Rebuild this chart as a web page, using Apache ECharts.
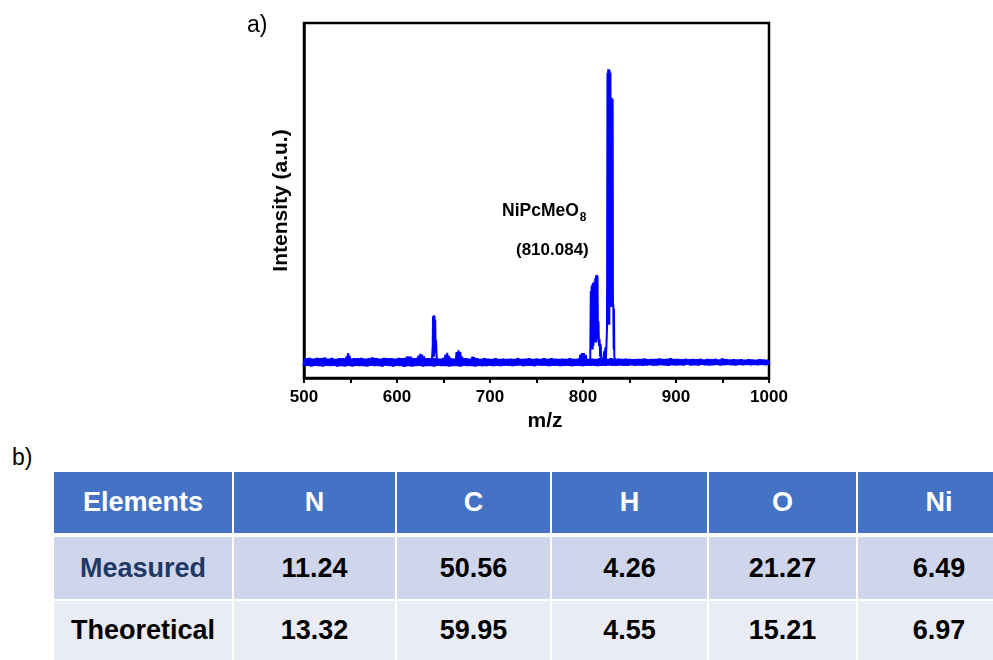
<!DOCTYPE html>
<html>
<head>
<meta charset="utf-8">
<script src="https://cdn.jsdelivr.net/npm/echarts@6/dist/echarts.min.js"></script>
<style>
body{margin:0;background:#fff;font-family:"Liberation Sans",Arial,sans-serif;}
#wrap{position:relative;width:993px;height:660px;overflow:hidden;}
#chart{position:absolute;left:0;top:0;width:993px;height:440px;}
.cell{position:absolute;display:flex;align-items:center;justify-content:center;font-weight:bold;font-size:27px;}
.lbl{position:absolute;font-size:23px;}
</style>
</head>
<body>
<div id="wrap">
  <div id="chart"></div>
  <div class="lbl" style="left:12px;top:444px;">b)</div>
  <div id="table"></div>
</div>
<script>
/*
* spectrum data: baseline noise every 2 m/z from 500, peaks as [m/z, intensity]
*/
var noiseStart = 500;
var noiseStep = 2;
var noise = [
  3.4,5.5,3.5,5.6,3.3,5.4,3.5,5.6,3.4,5.5,
  3.3,5.7,3.5,5.4,3.4,5.6,3.5,5.3,3.3,5.5,
  3.4,5.5,3.3,5.6,3.5,5.4,3.3,5.5,3.5,5.5,
  3.4,5.6,3.4,5.4,3.3,5.5,3.5,5.7,3.4,5.5,
  3.4,5.4,3.3,5.6,3.5,5.5,3.4,5.5,3.3,5.4,
  3.5,5.6,3.4,5.5,3.2,5.7,3.4,5.5,3.3,5.5,
  3.4,5.6,3.5,5.4,3.3,5.5,3.4,5.5,3.4,5.6,
  3.3,5.5,3.5,5.4,3.4,5.6,3.4,5.5,3.3,5.5,
  3.4,5.4,3.4,5.6,3.3,5.5,3.5,5.5,3.4,5.4,
  3.4,5.5,3.3,5.5,3.5,5.3,3.4,5.5,3.4,5.4,
  3.5,5.3,3.4,5.5,3.5,5.3,3.4,5.4,3.5,5.3,
  3.5,5.4,3.4,5.3,3.5,5.5,3.6,5.3,3.4,5.4,
  3.5,5.5,3.5,5.3,3.4,5.4,3.6,5.3,3.5,5.5,
  3.5,5.3,3.4,5.5,3.5,5.4,3.5,5.3,3.4,5.4,
  3.5,5.3,3.5,5.5,3.4,5.3,3.5,5.4,3.5,5.3,
  3.4,5.4,3.5,5.3,3.5,5.4,3.5,5.3,3.4,5.5,
  3.5,5.4,3.5,5.3,3.6,5.5,3.5,5.3,3.5,5.4,
  3.6,5.3,3.5,5.4,3.5,5.3,3.7,5.2,3.5,5.3,
  3.6,5.3,3.5,5.4,3.6,5.2,3.7,5.3,3.5,5.3,
  3.6,5.4,3.7,5.3,3.6,5.3,3.5,5.5,3.7,5.3,
  3.6,5.3,3.7,5.2,3.6,5.3,3.8,5.2,3.6,5.3,
  3.7,5.2,3.6,5.3,3.8,5.1,3.7,5.3,3.6,5.2,
  3.7,5.3,3.8,5.1,3.6,5.4,3.7,5.2,3.8,5.1,
  3.7,5.2,3.6,5.1,3.8,5.2,3.7,5.0,3.8,5.2,
  3.7,5.1,3.8,5.0,3.7,5.2,3.8,5.1,3.7,5.0,
  3.8
];
var peaks = [
  [545,4.5],[546,6.2],[546.8,4.2],[547.5,7.0],[548.2,4.2],[549,6.3],[550,4.5],
  [610,4.2],[611,6.1],[612,4.2],[613,6.0],[614,4.2],[615,6.0],[616,4.5],
  [622,4.2],[623,6.3],[624,4.2],[625,6.8],[626,4.2],[627,6.6],[628,4.2],[629,6.1],[630,4.5],
  [637.5,4.5],[638.4,9],[638.7,17.3],[639.1,6],[639.5,17.7],[639.9,6],[640.3,17.5],[640.7,7],[641.1,16.5],[641.5,9],[642,10.6],[642.6,6],[643.5,4.5],
  [651,4.2],[652,6.6],[653,4.2],[654,7.1],[655,4.2],[656,6.2],[657,4.5],
  [663,4.2],[664,7.3],[665,4.2],[666,7.8],[667,4.2],[668,7.4],[669,4.2],[670,6.0],[671,4.5],
  [680,4.2],[681,6.0],[682,4.2],[683,5.9],[684,4.5],
  [796,4.2],[797,6.6],[798,4.2],[799,7.0],[800,4.2],[801,7.0],[802,4.2],[803,6.5],[804,4.5],
  [807.8,5],[808.4,24.5],[808.8,8],[809.2,25.8],[809.6,8],[810.0,26.4],[810.4,8],[810.8,26.8],[811.2,9],[811.6,26.0],[812.0,10],
  [812.4,27.2],[812.8,10],[813.2,28.2],[813.6,10],[814.0,28.8],[814.4,10],[814.8,29.1],[815.2,11],[815.6,28.8],[816.0,15],
  [816.6,16],[817.2,9],[817.8,11],[818.4,6],[819.0,9.5],[819.8,5],[820.8,4.5],
  [822,5],[822.8,7.6],[823.4,5],[824,8.6],[824.6,5],[825.2,9.2],[825.8,14],
  [826.3,86],[826.7,15],[827.1,87],[827.5,15],[827.9,87],[828.3,15],[828.7,86.6],[829.1,20],[829.5,86],
  [829.9,20],[830.3,79],[830.7,20],[831.1,78.8],[831.5,20],[831.9,78.5],[832.2,21],
  [832.6,20.4],[833.0,8],[833.3,19.5],[833.7,6],[834.5,5],[835.5,4.5]
];
var xTicks = [500, 600, 700, 800, 900, 1000];

// table data
var tableHeader = ['Elements', 'N', 'C', 'H', 'O', 'Ni'];
var measured = ['Measured', '11.24', '50.56', '4.26', '21.27', '6.49'];
var theoretical = ['Theoretical', '13.32', '59.95', '4.55', '15.21', '6.97'];

var noiseData = noise.map(function (v, i) { return [noiseStart + i * noiseStep, v]; });

var option = {
  animation: false,
  grid: {
    left: 304, right: 224, top: 23, bottom: 62,
    show: true, borderColor: '#000', borderWidth: 2.5, backgroundColor: 'transparent'
  },
  xAxis: {
    type: 'value',
    min: xTicks[0], max: xTicks[xTicks.length - 1], interval: 100,
    name: 'm/z', nameLocation: 'middle', nameGap: 24,
    nameTextStyle: { fontFamily: 'Liberation Sans', fontWeight: 'bold', fontSize: 21, color: '#000', padding: [0, 0, 0, 17] },
    axisLine: { lineStyle: { color: '#000', width: 2.5 } },
    axisTick: { show: true, length: 5, lineStyle: { color: '#000', width: 2 } },
    minorTick: { show: true, splitNumber: 2, length: 5, lineStyle: { color: '#000', width: 2 } },
    axisLabel: {
      margin: 11, fontFamily: 'Liberation Sans', fontWeight: 'bold', fontSize: 17, color: '#000',
      formatter: function (v) { return String(v); }
    },
    splitLine: { show: false }
  },
  yAxis: {
    type: 'value', min: 0, max: 100,
    name: 'Intensity (a.u.)', nameLocation: 'middle', nameGap: 12,
    nameTextStyle: { fontFamily: 'Liberation Sans', fontWeight: 'bold', fontSize: 21, color: '#000' },
    axisLine: { show: true, lineStyle: { color: '#000', width: 2.5 } },
    axisTick: { show: false },
    axisLabel: { show: false },
    splitLine: { show: false }
  },
  graphic: [
    { type: 'text', left: 247, top: 14, style: { text: 'a)', fontFamily: 'Liberation Sans', fontSize: 23, fill: '#000' } },
    {
      type: 'text', left: 502, top: 202,
      style: {
        text: '{a|NiPcMeO}{s|8}',
        rich: {
          a: { fontFamily: 'Liberation Sans', fontWeight: 'bold', fontSize: 17.5, fill: '#000', verticalAlign: 'bottom', lineHeight: 21 },
          s: { fontFamily: 'Liberation Sans', fontWeight: 'bold', fontSize: 12, fill: '#000', verticalAlign: 'bottom', padding: [0, 0, -4, 1], lineHeight: 21 }
        }
      }
    },
    { type: 'text', left: 516, top: 242, style: { text: '(810.084)', fontFamily: 'Liberation Sans', fontWeight: 'bold', fontSize: 17, fill: '#000' } }
  ],
  series: [
    {
      name: 'noise', type: 'line', data: noiseData, symbol: 'none', sampling: null,
      lineStyle: { color: '#0000ff', width: 3.4 }, z: 2
    },
    {
      name: 'peaks', type: 'line', data: peaks, symbol: 'none',
      lineStyle: { color: '#0000ff', width: 2 }, z: 3
    }
  ]
};

var chart = echarts.init(document.getElementById('chart'));
chart.setOption(option);

// table drawn as divs
var colEdges = [54, 233, 396, 551, 708, 857, 1021];
var rowTops = [472, 537, 601];
var rowBottoms = [533, 599, 660];
var rowBg = ['#4472c4', '#cfd5ea', '#e9ebf5'];
var rows = [tableHeader, measured, theoretical];
var html = '';
rows.forEach(function (row, r) {
  row.forEach(function (txt, c) {
    var color = r === 0 ? '#fff' : (c === 0 && r === 1 ? '#1f3864' : '#000');
    var l = colEdges[c] + (c === 0 ? 0 : 1);
    var w = colEdges[c + 1] - 1 - l;
    html += '<div class="cell" style="left:' + l + 'px;top:' + rowTops[r] + 'px;width:' + w +
      'px;height:' + (rowBottoms[r] - rowTops[r]) + 'px;background:' + rowBg[r] + ';color:' + color + ';">' + txt + '</div>';
  });
});
document.getElementById('table').innerHTML = html;
</script>
</body>
</html>
